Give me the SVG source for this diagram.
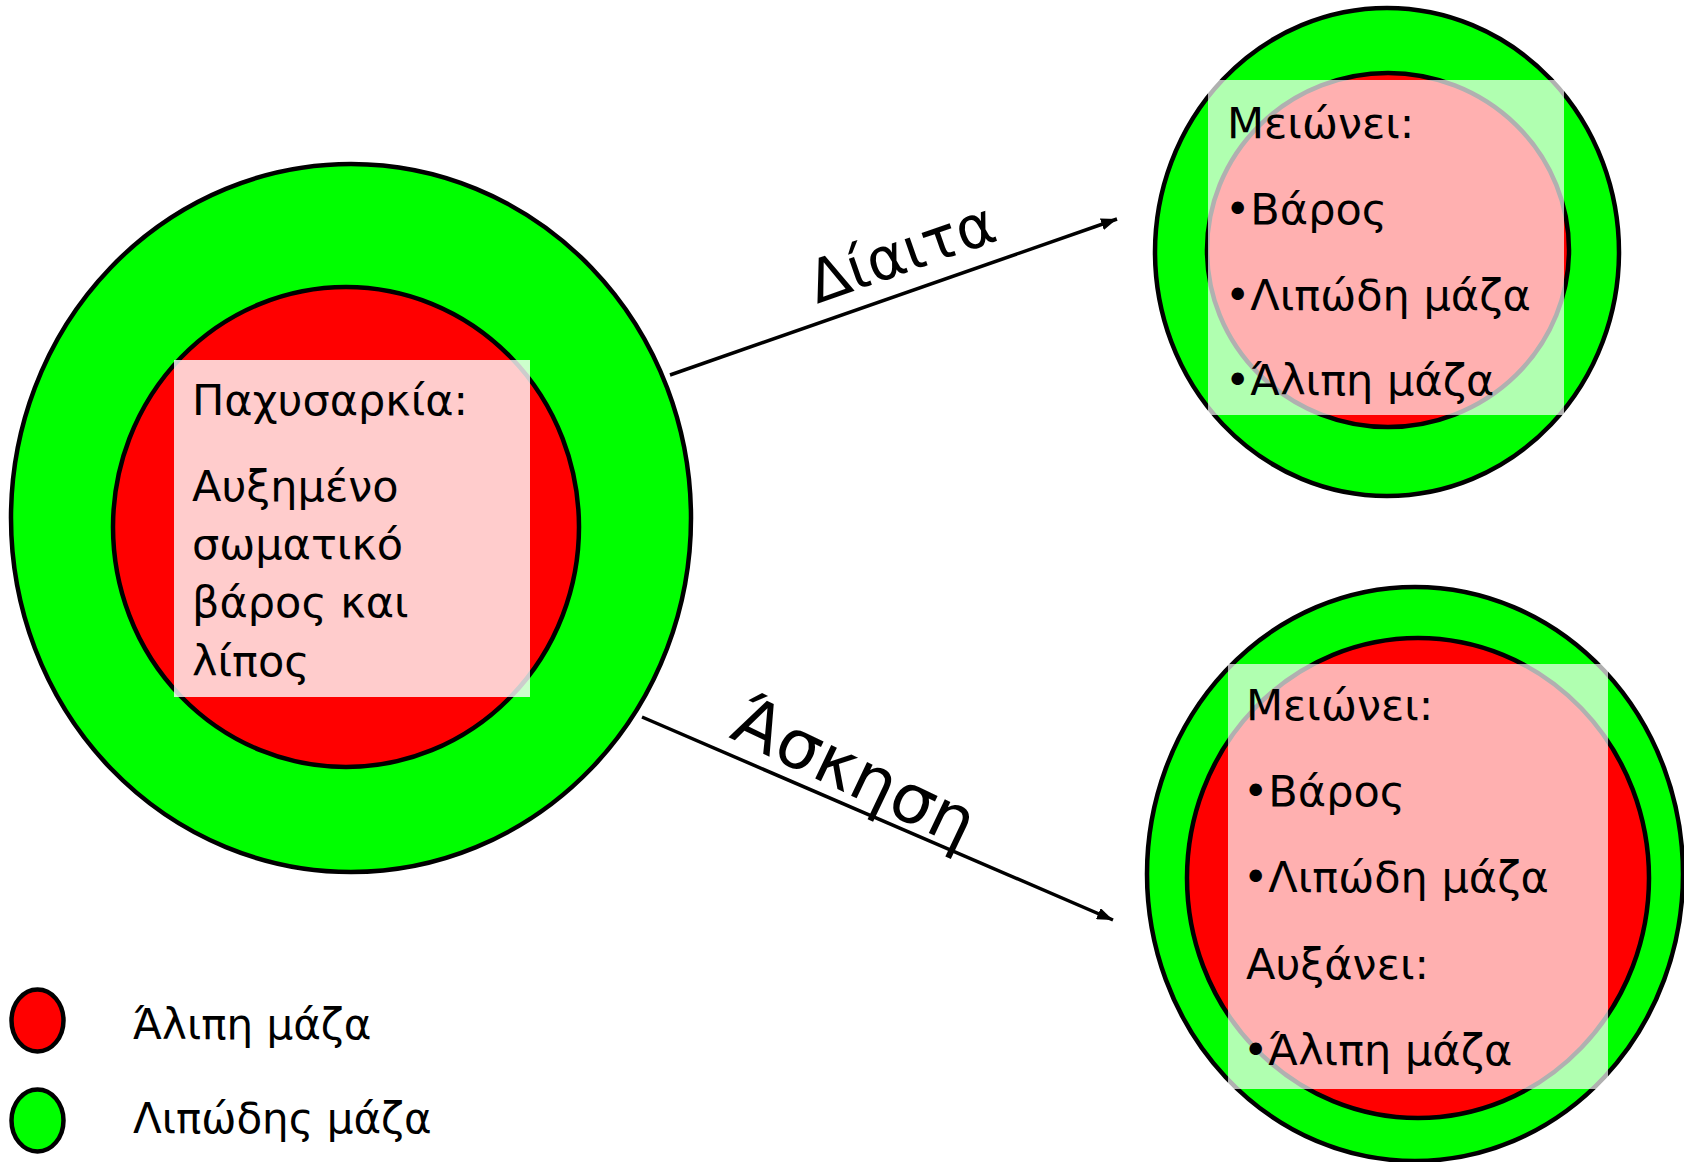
<svg xmlns="http://www.w3.org/2000/svg" width="1684" height="1162" viewBox="0 0 1684 1162">
<style>
.fat{fill:#00ff00;stroke:#000;stroke-width:4.5}
.lean{fill:#ff0000;stroke:#000;stroke-width:4.5}
.box1{fill:#fff;fill-opacity:0.8}
.box2{fill:#fff;fill-opacity:0.69}
.t{font-family:"DejaVu Sans","Liberation Sans",sans-serif;font-size:43px;fill:#000}
.lbl{font-family:"DejaVu Sans","Liberation Sans",sans-serif;fill:#000}
.leg{font-family:"DejaVu Sans","Liberation Sans",sans-serif;font-size:42px;fill:#000}
.conn{stroke:#000;stroke-width:3.5;fill:none}
</style>
<defs>
<marker id="ah" markerUnits="userSpaceOnUse" markerWidth="18" markerHeight="12" refX="16" refY="6" orient="auto">
<path d="M0,0 L16,6 L0,12 Z" fill="#000"/>
</marker>
</defs>
<rect width="1684" height="1162" fill="#fff"/>
<g id="obesity">
<ellipse class="fat" cx="351" cy="518" rx="340" ry="354"/>
<ellipse class="lean" cx="346" cy="527" rx="233" ry="240"/>
<rect class="box1" x="174" y="360" width="356" height="337"/>
<text class="t" x="192" y="415">Παχυσαρκία:</text>
<text class="t" x="192" y="501">Αυξημένο</text>
<text class="t" x="192" y="559">σωματικό</text>
<text class="t" x="192" y="617">βάρος και</text>
<text class="t" x="192" y="676">λίπος</text>
</g>
<g id="diet-result">
<ellipse class="fat" cx="1387" cy="252" rx="232" ry="244"/>
<ellipse class="lean" cx="1388" cy="250" rx="181" ry="177"/>
<rect class="box2" x="1208" y="80" width="356" height="335"/>
<text class="t" x="1227" y="138">Μειώνει:</text>
<text class="t" x="1225" y="224">•Βάρος</text>
<text class="t" x="1225" y="310">•Λιπώδη μάζα</text>
<text class="t" x="1225" y="395">•Άλιπη μάζα</text>
</g>
<g id="exercise-result">
<ellipse class="fat" cx="1415" cy="874" rx="268" ry="287"/>
<ellipse class="lean" cx="1418" cy="878" rx="231" ry="240"/>
<rect class="box2" x="1228" y="664" width="380" height="425"/>
<text class="t" x="1246" y="720">Μειώνει:</text>
<text class="t" x="1243" y="806">•Βάρος</text>
<text class="t" x="1243" y="892">•Λιπώδη μάζα</text>
<text class="t" x="1246" y="979">Αυξάνει:</text>
<text class="t" x="1243" y="1065">•Άλιπη μάζα</text>
</g>
<g id="connectors">
<line class="conn" x1="670" y1="375" x2="1117" y2="219" marker-end="url(#ah)"/>
<line class="conn" x1="642" y1="717" x2="1113" y2="920" marker-end="url(#ah)"/>
<text class="lbl" font-size="59" transform="translate(817,304) rotate(-19.3)">Δίαιτα</text>
<text class="lbl" font-size="68" transform="translate(728,737) rotate(25.5)">Άσκηση</text>
</g>
<g id="legend">
<ellipse class="lean" cx="37.5" cy="1020.5" rx="26" ry="31"/>
<ellipse class="fat" cx="37.5" cy="1120.5" rx="26" ry="31"/>
<text class="leg" x="133" y="1039">Άλιπη μάζα</text>
<text class="leg" x="133" y="1133">Λιπώδης μάζα</text>
</g>
</svg>
